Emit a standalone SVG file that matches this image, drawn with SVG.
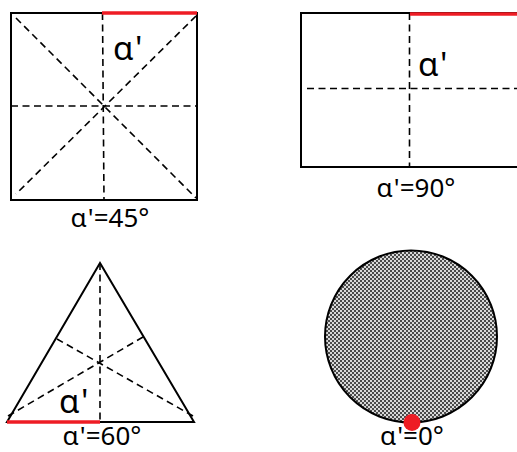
<svg xmlns="http://www.w3.org/2000/svg" width="517" height="452" viewBox="0 0 517 452">
<defs>
<pattern id="checker" width="4" height="4" patternUnits="userSpaceOnUse">
<rect width="4" height="4" fill="#d8d8d8"/>
<rect x="0" y="0" width="2" height="2" fill="#4a4a4a"/>
<rect x="2" y="2" width="2" height="2" fill="#4a4a4a"/>
</pattern>
</defs>
<style>
.outline{fill:none;stroke:#000;stroke-width:2}
.dash{fill:none;stroke:#000;stroke-width:1.6;stroke-dasharray:7 4.5}
.red{fill:none;stroke:#ee1c24;stroke-width:3.5}
.big{font-family:"Noto Sans","Open Sans",sans-serif;font-size:33px;fill:#000}
.lbl{font-family:"Noto Sans","Open Sans",sans-serif;font-size:26px;fill:#000;text-anchor:middle}
</style>
<g id="square45">
<line class="dash" x1="11" y1="106" x2="197" y2="106"/>
<line class="dash" x1="102.5" y1="13" x2="104" y2="200"/>
<line class="dash" x1="16" y1="18" x2="196" y2="198"/>
<line class="dash" x1="196" y1="16" x2="16" y2="194"/>
<rect class="outline" x="11" y="13" width="186" height="187"/>
<line class="red" x1="102" y1="13" x2="197" y2="13"/>
<text class="big" x="113" y="60">α'</text>
<text class="lbl" x="110" y="227">α'=45°</text>
</g>
<g id="rect90">
<line class="dash" x1="307" y1="88.5" x2="517" y2="88.5"/>
<line class="dash" x1="409.5" y1="13" x2="409.5" y2="167"/>
<path class="outline" d="M517,13 H301 V167 H517"/>
<line class="red" x1="410" y1="14" x2="517" y2="14"/>
<text class="big" x="418" y="76">α'</text>
<text class="lbl" x="416" y="197">α'=90°</text>
</g>
<g id="triangle60">
<line class="dash" x1="100" y1="263" x2="100" y2="422"/>
<line class="dash" x1="8" y1="416" x2="143" y2="337"/>
<line class="dash" x1="193" y1="416" x2="57" y2="339"/>
<polygon class="outline" points="100,263 7,422 194,422"/>
<line class="red" x1="7" y1="422" x2="100" y2="422"/>
<text class="big" x="59" y="413">α'</text>
<text class="lbl" x="102" y="445">α'=60°</text>
</g>
<g id="circle0">
<circle cx="411" cy="336.5" r="86" fill="url(#checker)" stroke="#000" stroke-width="2"/>
<circle cx="412" cy="422.5" r="8.5" fill="#ee1c24"/>
<text class="lbl" x="412" y="445">α'=0°</text>
</g>
</svg>
